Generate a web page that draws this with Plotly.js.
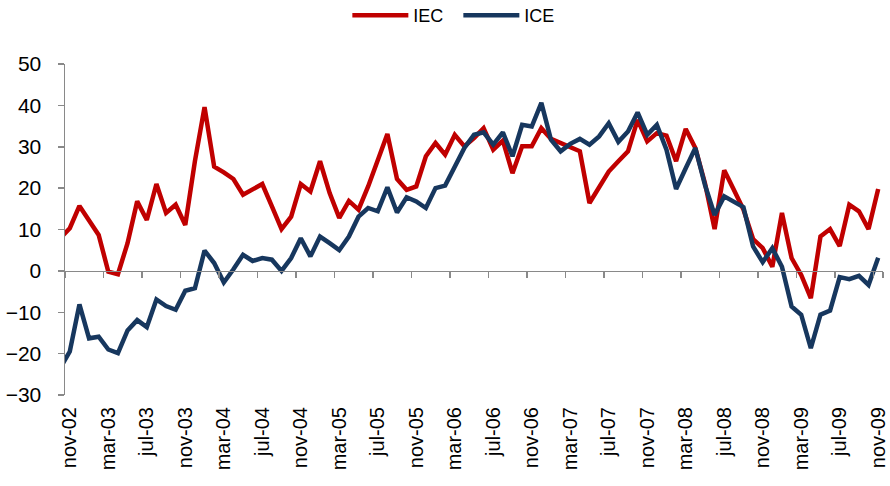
<!DOCTYPE html>
<html>
<head>
<meta charset="utf-8">
<script src="https://cdn.plot.ly/plotly-3.0.1.min.js"></script>
<style>
  html, body { margin: 0; padding: 0; background: #ffffff; }
  #chart { width: 890px; height: 486px; }
</style>
</head>
<body>
<div id="chart"></div>
<script>
// Month names and years for the category axis (oct-02 is only partly visible at the left edge)
const monthNames = ["ene","feb","mar","abr","may","jun","jul","ago","sep","oct","nov","dic"];
const firstMonth = 9;   // oct
const firstYear = 2;    // 2002
const nMonths = 86;     // oct-02 .. nov-09

// Tick labels shown on the axis
const tickLabels = ["nov-02","mar-03","jul-03","nov-03","mar-04","jul-04","nov-04","mar-05",
  "jul-05","nov-05","mar-06","jul-06","nov-06","mar-07","jul-07","nov-07","mar-08","jul-08",
  "nov-08","mar-09","jul-09","nov-09"];

// IEC (red) series, oct-02 .. nov-09
const iec = [7.9,
  10.3, 15.7, 12.3, 8.7, -0.2, -0.8, 6.7, 16.8, 12.3, 21.0, 14.0, 16.0,
  11.1, 26.5, 39.6, 25.2, 23.8, 22.2, 18.4, 19.8, 21.0, 15.6, 10.1, 13.1,
  21.0, 19.2, 26.5, 18.8, 12.8, 16.9, 14.8, 20.4, 26.5, 33.1, 22.2, 19.6,
  20.4, 27.7, 30.9, 28.1, 32.9, 30.1, 32.1, 34.5, 29.3, 31.5, 23.6, 30.1,
  30.1, 34.5, 31.9, 30.9, 29.9, 28.9, 16.4, 20.4, 24.0, 26.5, 28.9, 36.5,
  31.3, 33.3, 32.7, 26.5, 34.3, 29.7, 21.2, 10.1, 24.3, 19.6, 14.8, 7.7,
  5.5, 1.0, 14.0, 3.1, -1.0, -6.6, 8.3, 10.1, 6.0, 16.0, 14.4, 10.1,
  19.8];

// ICE (dark blue) series, oct-02 .. nov-09
const ice = [-23.5,
  -19.5, -8.1, -16.3, -15.9, -19.0, -19.9, -14.4, -11.9, -13.6, -6.9, -8.5, -9.4,
  -4.8, -4.2, 4.9, 1.9, -2.8, 0.4, 3.9, 2.4, 3.1, 2.7, 0.0, 3.1,
  7.9, 3.5, 8.3, 6.7, 5.0, 8.3, 13.1, 15.2, 14.4, 20.2, 14.1, 17.8,
  16.8, 15.2, 20.0, 20.6, 25.2, 29.7, 32.9, 33.5, 30.5, 33.5, 27.7, 35.3,
  34.9, 40.6, 31.7, 28.9, 30.7, 31.9, 30.5, 32.5, 35.7, 31.2, 33.7, 38.3,
  32.9, 35.3, 29.3, 19.8, 24.8, 29.7, 20.8, 13.5, 18.0, 16.8, 15.4, 5.9,
  2.1, 5.5, 1.0, -8.6, -10.6, -18.7, -10.6, -9.6, -1.5, -2.0, -1.2, -3.4,
  3.2];

const yTicks = [-30, -20, -10, 0, 10, 20, 30, 40, 50];

const categories = [];
for (let k = 0; k < nMonths; k++) {
  const m = (firstMonth + k) % 12;
  const y = firstYear + Math.floor((firstMonth + k) / 12);
  categories.push(monthNames[m] + "-" + String(y).padStart(2, "0"));
}

const FONT = '"Liberation Sans", Arial, sans-serif';
const axisGray = '#898989';
const yMin = -30, yMax = 50;
const xRange = [0.5, nMonths - 0.5];

const traces = [
  {
    type: 'scatter', mode: 'lines', name: 'IEC',
    x: categories, y: iec, xaxis: 'x', yaxis: 'y',
    line: { color: '#C00000', width: 4.5 },
    hoverinfo: 'x+y+name'
  },
  {
    type: 'scatter', mode: 'lines', name: 'ICE',
    x: categories, y: ice, xaxis: 'x2', yaxis: 'y',
    line: { color: '#17375E', width: 4.5 },
    hoverinfo: 'x+y+name'
  }
];

const layout = {
  width: 890, height: 486,
  paper_bgcolor: '#ffffff', plot_bgcolor: '#ffffff',
  margin: { l: 65, r: 7, t: 64, b: 91 },
  font: { family: FONT, color: '#000000' },
  showlegend: true,
  legend: {
    orientation: 'h', xref: 'container', x: 0.515, xanchor: 'center',
    yref: 'container', y: 0.968, yanchor: 'middle',
    font: { family: FONT, size: 18, color: '#000000' },
    itemwidth: 56, entrywidth: 40, entrywidthmode: 'pixels',
    traceorder: 'normal', bgcolor: 'rgba(0,0,0,0)'
  },
  xaxis: {
    type: 'category', categoryorder: 'array', categoryarray: categories,
    range: xRange, tickmode: 'array', tickvals: tickLabels, ticktext: tickLabels,
    tickangle: -90, ticks: '', showline: false, showgrid: false, zeroline: false,
    ticklabelstandoff: 7,
    tickfont: { family: FONT, size: 20, color: '#000000' },
    fixedrange: true
  },
  xaxis2: {
    type: 'category', categoryorder: 'array', categoryarray: categories,
    overlaying: 'x', anchor: 'free', position: (0 - yMin) / (yMax - yMin),
    range: xRange, tickmode: 'array', tickvals: tickLabels, tickson: 'boundaries',
    showticklabels: false, ticks: 'outside', ticklen: 6, tickwidth: 1.5, tickcolor: axisGray,
    showline: true, linecolor: axisGray, linewidth: 1.5, showgrid: false, zeroline: false,
    fixedrange: true
  },
  yaxis: {
    range: [yMin, yMax], tickmode: 'array', tickvals: yTicks,
    ticks: 'outside', ticklen: 6, tickwidth: 1.5, tickcolor: axisGray,
    showline: true, linecolor: axisGray, linewidth: 1.5,
    showgrid: false, zeroline: false, ticklabelstandoff: 12,
    tickfont: { family: FONT, size: 21, color: '#000000' },
    fixedrange: true
  }
};

Plotly.newPlot('chart', traces, layout, { displayModeBar: false, staticPlot: true });
</script>
</body>
</html>
